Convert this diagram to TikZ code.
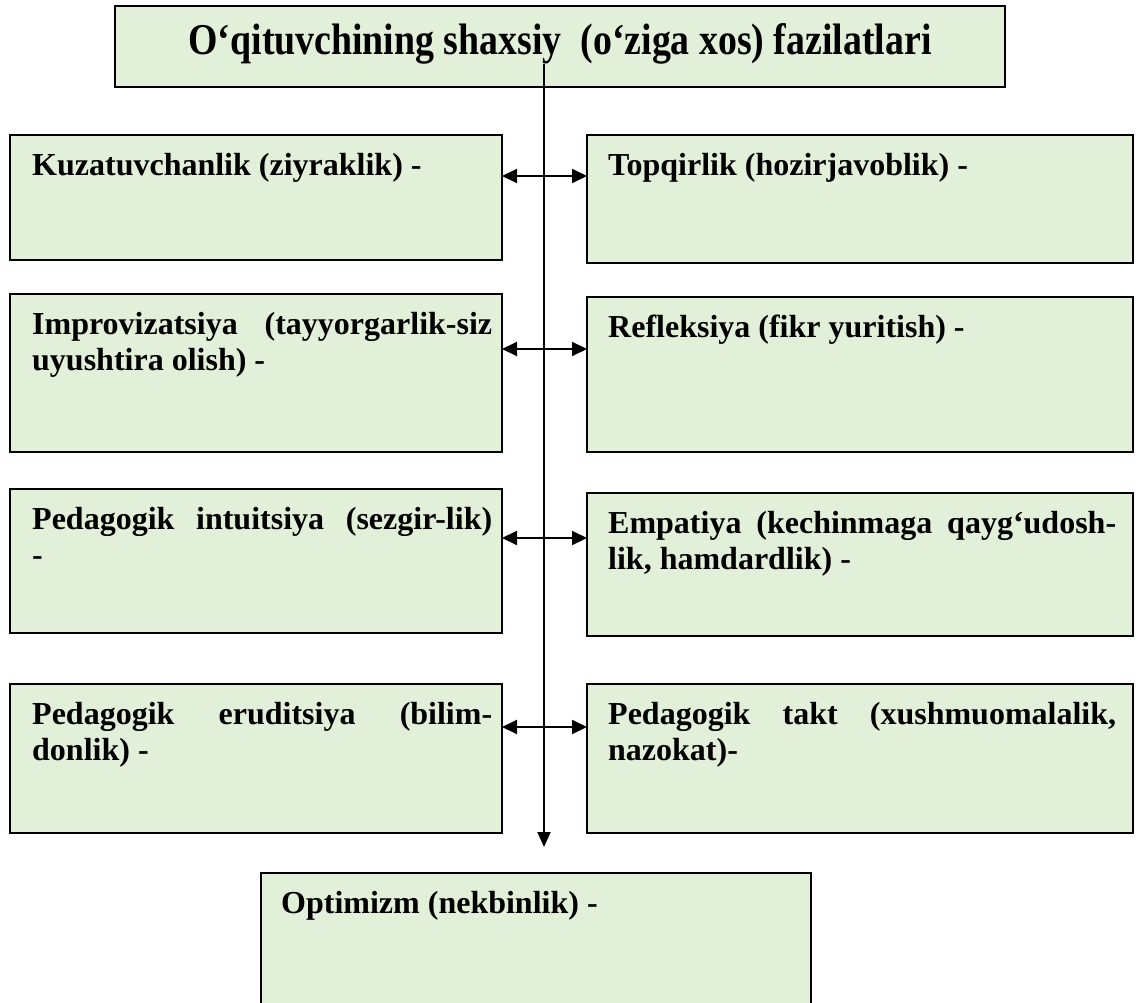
\documentclass[tikz,border=0pt]{standalone}
\usepackage{fontspec}
\setmainfont{Liberation Serif}
\usepackage{graphicx}
\usetikzlibrary{arrows.meta,calc}
\definecolor{cellgreen}{HTML}{E2EFD9}
\tikzset{
  cell/.style={draw=black, line width=2.2pt, fill=cellgreen, anchor=north west, inner sep=0pt, outer sep=0pt},
  celltext/.style={anchor=north west, inner sep=0pt, align=justify, font=\fontsize{32}{36}\selectfont\bfseries},
  conn/.style={line width=2pt, draw=black},
  dblarrow/.style={conn, {Triangle[length=15pt,width=14pt]}-{Triangle[length=15pt,width=14pt]}},
  downarrow/.style={conn, -{Triangle[length=15pt,width=13pt]}}
}
\begin{document}
\begin{tikzpicture}[x=1pt,y=-1pt]
\clip (0,0) rectangle (1141,1003);
\fill[white] (0,0) rectangle (1141,1003);
% title
\node[cell, minimum width=890pt, minimum height=81pt] (title) at (115,6) {};
\node[anchor=base, inner sep=0pt] (titlet) at (560,55) {\scalebox{0.86}[1]{\fontsize{44}{48}\selectfont\bfseries O‘qituvchining shaxsiy~ (o‘ziga xos) fazilatlari}};
% row 1
\node[cell, minimum width=492pt, minimum height=125pt] (l1) at (10,135) {};
\node[celltext, text width=460pt] (l1t) at ([shift={(22pt,-18pt)}]l1.north west) {Kuzatuvchanlik (ziyraklik) -};
\node[cell, minimum width=546pt, minimum height=128pt] (r1) at (587,135) {};
\node[celltext, text width=508pt] (r1t) at ([shift={(21pt,-18pt)}]r1.north west) {Topqirlik (hozirjavoblik) -};
% row 2
\node[cell, minimum width=492pt, minimum height=158pt] (l2) at (10,294) {};
\node[celltext, text width=460pt] (l2t) at ([shift={(22pt,-18pt)}]l2.north west) {Improvizatsiya (tayyorgarlik-siz\linebreak uyushtira olish) -};
\node[cell, minimum width=546pt, minimum height=155pt] (r2) at (587,297) {};
\node[celltext, text width=508pt] (r2t) at ([shift={(21pt,-18pt)}]r2.north west) {Refleksiya (fikr yuritish) -};
% row 3
\node[cell, minimum width=492pt, minimum height=144pt] (l3) at (10,489) {};
\node[celltext, text width=460pt] (l3t) at ([shift={(22pt,-18pt)}]l3.north west) {Pedagogik intuitsiya (sezgir-lik)\linebreak -};
\node[cell, minimum width=546pt, minimum height=143pt] (r3) at (587,493) {};
\node[celltext, text width=508pt] (r3t) at ([shift={(21pt,-18pt)}]r3.north west) {Empatiya (kechinmaga qayg‘udosh-\linebreak lik, hamdardlik) -};
% row 4
\node[cell, minimum width=492pt, minimum height=149pt] (l4) at (10,684) {};
\node[celltext, text width=460pt] (l4t) at ([shift={(22pt,-18pt)}]l4.north west) {Pedagogik eruditsiya (bilim-\linebreak donlik) -};
\node[cell, minimum width=546pt, minimum height=149pt] (r4) at (587,684) {};
\node[celltext, text width=508pt] (r4t) at ([shift={(21pt,-18pt)}]r4.north west) {Pedagogik takt (xushmuomalalik,\linebreak nazokat)-};
% bottom
\node[cell, minimum width=550pt, minimum height=150pt] (opt) at (261,873) {};
\node[celltext, text width=510pt] (optt) at ([shift={(20pt,-18pt)}]opt.north west) {Optimizm (nekbinlik) -};
% connectors
\coordinate (vtop) at (544,64);
\coordinate (vend) at (544,847);
\draw[downarrow] (vtop) -- (vend);
\draw[dblarrow] (l1.east |- 0,176) -- (r1.west |- 0,176);
\draw[dblarrow] (l2.east |- 0,349) -- (r2.west |- 0,349);
\draw[dblarrow] (l3.east |- 0,538) -- (r3.west |- 0,538);
\draw[dblarrow] (l4.east |- 0,727) -- (r4.west |- 0,727);
\end{tikzpicture}
\end{document}
